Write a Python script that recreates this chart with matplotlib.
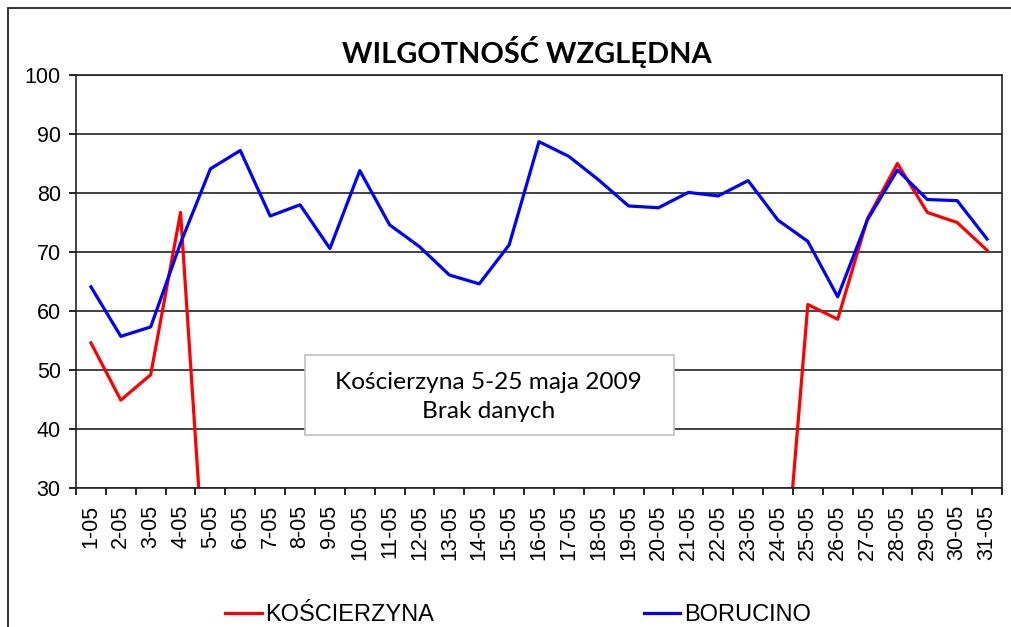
import matplotlib
matplotlib.use("Agg")
import matplotlib.pyplot as plt
from matplotlib.patches import Rectangle

# data
days = [f"{d}-05" for d in range(1, 32)]
koscierzyna = [54.6, 44.9, 49.2, 76.7,
               0, 0, 0, 0, 0, 0, 0, 0, 0, 0, 0, 0, 0, 0, 0, 0,
               0, 0, 0, 0,
               61.1, 58.6, 75.7, 85.0, 76.7, 75.0, 70.3]
borucino = [64.1, 55.7, 57.3, 71.5, 84.1, 87.2, 76.1, 78.0, 70.6, 83.8,
            74.6, 70.9, 66.1, 64.6, 71.2, 88.7, 86.2, 82.2, 77.8, 77.5,
            80.1, 79.5, 82.1, 75.4, 71.8, 62.4, 75.5, 83.9, 78.9, 78.7, 72.2]
y_ticks = [30, 40, 50, 60, 70, 80, 90, 100]

plt.rcParams["font.family"] = ["Liberation Sans", "DejaVu Sans"]

fig = plt.figure(figsize=(10.11, 6.27), dpi=100)
ax = fig.add_axes([76 / 1011, 1 - 488 / 627, 926 / 1011, 413 / 627])

x = list(range(len(days)))
ax.plot(x, koscierzyna, color="#ff0000", lw=2.3, label="KOŚCIERZYNA")
ax.plot(x, borucino, color="#0000ff", lw=2.3, label="BORUCINO")

ax.set_xlim(-0.5, len(days) - 0.5)
ax.set_ylim(30, 100)
ax.set_yticks(y_ticks)
ax.set_yticklabels([str(v) for v in y_ticks], fontsize=15.5)
ax.set_xticks(x)
ax.set_xticklabels(days, rotation=90, fontsize=15.5)
ax.set_xticks([i + 0.5 for i in range(-1, len(days))], minor=True)
ax.tick_params(axis="x", which="major", length=0, pad=12)
ax.tick_params(axis="x", which="minor", length=5, width=1.2, direction="out")
ax.tick_params(axis="y", length=5, width=1.2, direction="out", pad=6)
ax.grid(axis="y", color="#222222", lw=1.2)
ax.set_axisbelow(True)
for s in ax.spines.values():
    s.set_color("#222222")
    s.set_linewidth(1.2)

# note box
ax.add_patch(Rectangle((0.2473, 0.1283), 0.3985, 0.1937, transform=ax.transAxes,
                       facecolor="white", edgecolor="#c0c0c0", lw=1.2, zorder=5))
ax.text(0.4458, 0.2566, "Kościerzyna 5-25 maja 2009", transform=ax.transAxes,
        ha="center", va="center", fontsize=17.6, family="Lato", zorder=6)
ax.text(0.4458, 0.1864, "Brak danych", transform=ax.transAxes,
        ha="center", va="center", fontsize=17.6, family="Lato", zorder=6)

fig.text(527 / 1011, 1 - 52 / 627, "WILGOTNOŚĆ WZGLĘDNA", ha="center", va="center",
         fontsize=20.9, fontweight="bold", family="Lato")

fig.legend(loc="center", bbox_to_anchor=(518 / 1011, 1 - 615 / 627), ncol=2,
           frameon=False, fontsize=17, handlelength=1.53, handletextpad=0.15,
           columnspacing=8.9)

fig.patches.append(Rectangle((8 / 1011, -0.1), 1.2, 1 - 8 / 627 + 0.1,
                             transform=fig.transFigure, fill=False,
                             edgecolor="#222222", lw=1.3))

fig.savefig("out.png", dpi=100)
